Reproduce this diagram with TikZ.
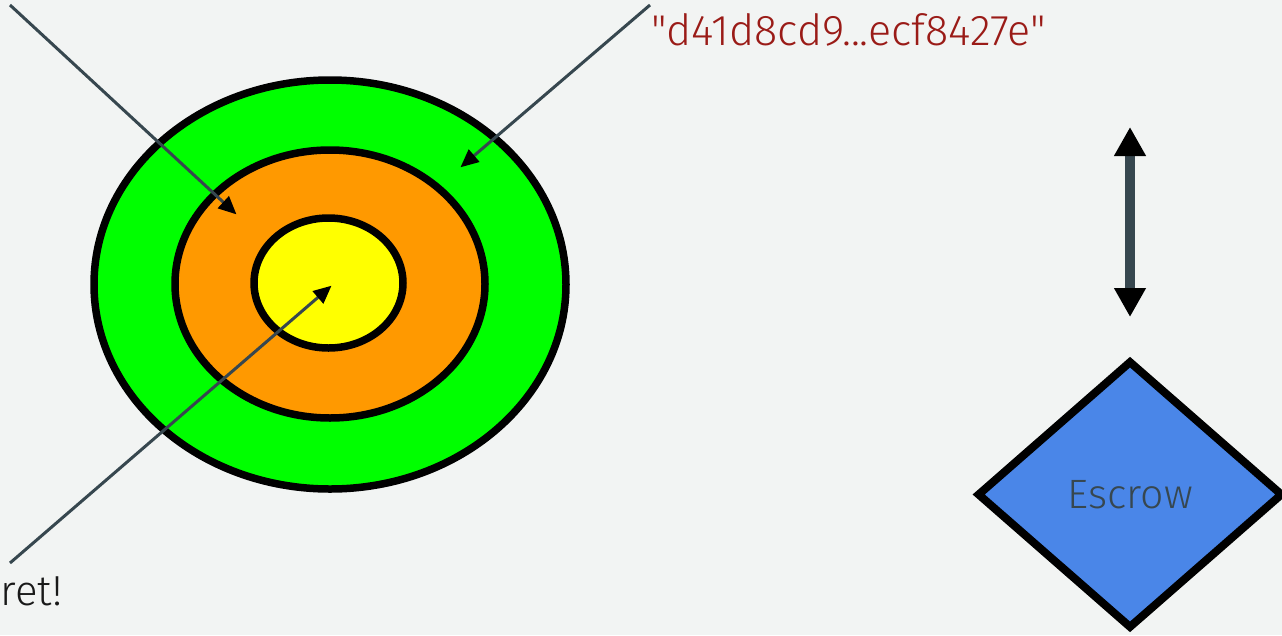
\documentclass[tikz,border=0pt]{standalone}
\usepackage{fontspec}
\setmainfont{Fira Sans}
\newfontfamily\lightfont{Fira Sans Light}
\usetikzlibrary{shapes.geometric,arrows.meta}
\definecolor{bgcol}{HTML}{F2F4F3}
\definecolor{slate}{HTML}{37474F}
\definecolor{hashred}{HTML}{9A1B17}
\definecolor{ringgreen}{HTML}{00FF00}
\definecolor{ringorange}{HTML}{FF9900}
\definecolor{ringyellow}{HTML}{FFFF00}
\definecolor{escrowblue}{HTML}{4A86E8}
\tikzset{
  ring/.style={ellipse, draw=black, line width=7.5pt, inner sep=0pt},
  pointer/.style={draw=slate, line width=3pt,
    -{Triangle[length=18pt,width=16pt,color=black]}, shorten >=-2pt},
  label/.style={inner sep=0pt, anchor=base west},
}
\begin{document}
\begin{tikzpicture}[x=1pt,y=-1pt]
  \fill[bgcol] (0,0) rectangle (1282,635);
  \useasboundingbox (0,0) rectangle (1282,635);

  % target rings
  \node[ring, fill=ringgreen, minimum width=472pt, minimum height=409pt] (outer) at (330,284.5) {};
  \node[ring, fill=ringorange, minimum width=310pt, minimum height=268pt] (middle) at (330,284) {};
  \node[ring, fill=ringyellow, minimum width=149pt, minimum height=130pt] (inner) at (328.5,283) {};

  % pointers into the rings
  \coordinate (tlstart) at (10,5);
  \coordinate (tlend) at (235,213);
  \coordinate (trstart) at (650,5);
  \coordinate (trend) at (462,166);
  \coordinate (blstart) at (10,563);
  \coordinate (blend) at (330,287);
  \draw[pointer] (tlstart) -- (tlend);
  \draw[pointer] (trstart) -- (trend);
  \draw[pointer] (blstart) -- (blend);

  % labels
  \node[label, text=hashred, font=\lightfont\fontsize{43}{50}\selectfont] (hash) at (651,45) {\char34 d41d8cd9...ecf8427e\char34};
  \node[inner sep=0pt, anchor=base west, text=black!90, font=\lightfont\fontsize{42}{50}\selectfont] (secret) at (0.5,605) {ret!};

  % two-way arrow
  \coordinate (dtop) at (1130,127);
  \coordinate (dbot) at (1130,317);
  \draw[draw=slate, line width=10pt,
    {Triangle[length=29pt,width=30pt,color=black]}-{Triangle[length=29pt,width=30pt,color=black]}]
    (dtop) -- (dbot);

  % escrow diamond
  \node[diamond, draw=black, line width=8pt, fill=escrowblue, inner sep=0pt,
        minimum width=306pt, minimum height=268pt, text=slate,
        font=\lightfont\fontsize{41}{48}\selectfont] (escrow) at (1130,494.5) {Escrow};
\end{tikzpicture}
\end{document}
